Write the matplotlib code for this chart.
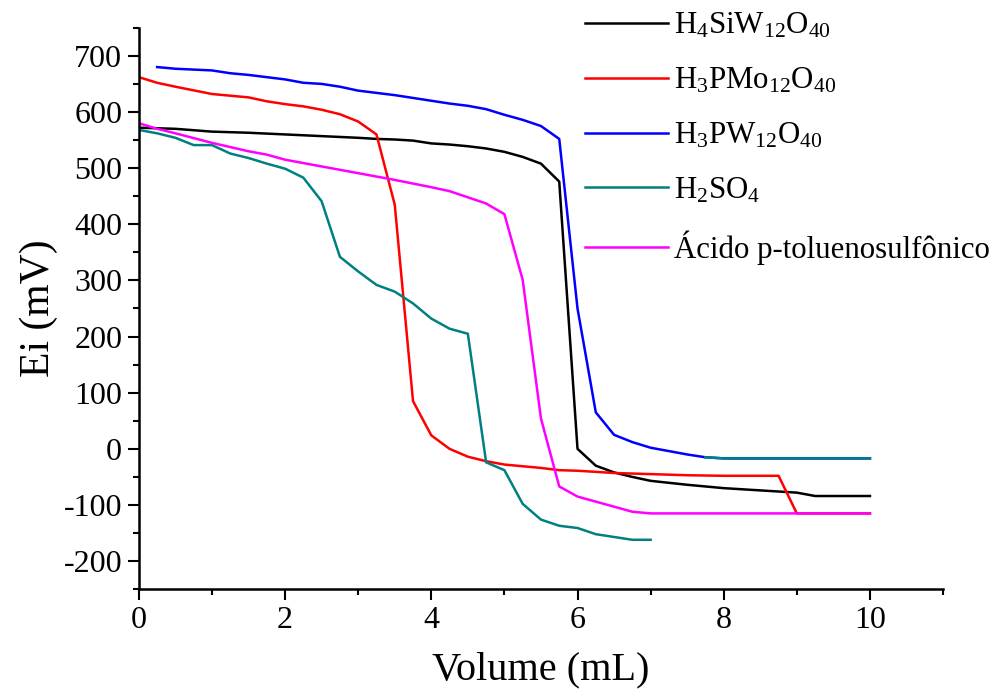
import matplotlib

matplotlib.use("Agg")
import matplotlib.pyplot as plt
from matplotlib.ticker import MultipleLocator

plt.rcParams["font.family"] = ["Liberation Serif", "DejaVu Serif"]
plt.rcParams["mathtext.fontset"] = "custom"
plt.rcParams["mathtext.rm"] = "Liberation Serif"
plt.rcParams["mathtext.it"] = "Liberation Serif"
plt.rcParams["axes.unicode_minus"] = False

# H4SiW12O40
x_siw = [0, 0.25, 0.5, 1, 1.5, 2, 2.5, 3, 3.25, 3.5, 3.75, 4, 4.25, 4.5, 4.75, 5,
         5.25, 5.5, 5.75, 6, 6.25, 6.5, 6.75, 7, 7.5, 8, 8.5, 8.75, 9, 9.25, 10]
y_siw = [572, 571, 570, 565, 563, 560, 557, 554, 552, 551, 549, 544, 542, 539, 535, 529,
         520, 508, 476, 0, -30, -42, -50, -57, -64, -70, -74, -76, -78, -84, -84]

# H3PMo12O40
x_pmo = [0, 0.25, 0.5, 1, 1.5, 1.75, 2, 2.25, 2.5, 2.75, 3, 3.25, 3.5, 3.75, 4, 4.25,
         4.5, 4.75, 5, 5.25, 5.5, 5.75, 6, 6.5, 7, 7.5, 8, 8.75, 9, 10]
y_pmo = [662, 652, 645, 632, 626, 619, 614, 610, 604, 596, 583, 560, 435, 85, 24, 0,
         -14, -22, -28, -31, -34, -38, -39, -43, -45, -47, -48, -48, -115, -115]

# H3PW12O40
x_pw = [0.25, 0.5, 1, 1.25, 1.5, 2, 2.25, 2.5, 2.75, 3, 3.5, 4, 4.25, 4.5, 4.75, 5,
        5.25, 5.5, 5.75, 6, 6.25, 6.5, 6.75, 7, 7.25, 7.5, 7.75, 8, 10]
y_pw = [680, 677, 674, 669, 666, 658, 652, 650, 645, 638, 630, 620, 615, 611, 605, 595,
        586, 575, 552, 250, 65, 25, 12, 2, -4, -10, -15, -17, -17]

# H2SO4
x_h2so4 = [0, 0.25, 0.5, 0.75, 1, 1.25, 1.5, 1.75, 2, 2.25, 2.5, 2.75, 3, 3.25, 3.5,
           3.75, 4, 4.25, 4.5, 4.75, 5, 5.25, 5.5, 5.75, 6, 6.25, 6.5, 6.75, 7]
y_h2so4 = [568, 562, 554, 541, 541, 526, 518, 508, 499, 483, 441, 342, 316, 292, 280,
           259, 232, 214, 205, -24, -38, -98, -126, -137, -141, -152, -157, -162, -162]

# teal stretch drawn over the end of the blue curve in the original
x_overlap = [7.75, 8, 10]
y_overlap = [-15, -17, -17]

# Ácido p-toluenosulfônico
x_pts = [0, 0.25, 0.5, 1, 1.5, 1.75, 2, 2.5, 3, 3.5, 4, 4.25, 4.5, 4.75, 5, 5.25,
         5.5, 5.75, 6, 6.25, 6.5, 6.75, 7, 10]
y_pts = [580, 570, 562, 545, 530, 524, 515, 503, 491, 479, 466, 459, 448, 437, 418, 301,
         54, -67, -85, -94, -103, -112, -115, -115]

fig = plt.figure(figsize=(9.99, 6.94), dpi=100)
ax = fig.add_axes([0.139, 0.151, 0.805, 0.809])

lw = 1.8
ax.plot(x_siw, y_siw, color="black", lw=lw, label=r"H$_4$SiW$_{12}$O$_{40}$")
ax.plot(x_pmo, y_pmo, color="#ff0000", lw=lw, label=r"H$_3$PMo$_{12}$O$_{40}$")
ax.plot(x_pw, y_pw, color="#0000ff", lw=lw, label=r"H$_3$PW$_{12}$O$_{40}$")
ax.plot(x_h2so4, y_h2so4, color="#008080", lw=lw, label=r"H$_2$SO$_4$")
ax.plot(x_pts, y_pts, color="#ff00ff", lw=lw, label="Ácido p-toluenosulfônico")
ax.plot(x_overlap, y_overlap, color="#008080", lw=lw)

ax.set_xlim(0, 11)
ax.set_ylim(-250, 750)
ax.set_xticks([0, 2, 4, 6, 8, 10])
ax.set_yticks(range(-200, 701, 100))
ax.xaxis.set_minor_locator(MultipleLocator(1))
ax.yaxis.set_minor_locator(MultipleLocator(50))

for side in ("top", "right"):
    ax.spines[side].set_visible(False)
for side in ("left", "bottom"):
    ax.spines[side].set_linewidth(1.8)

ax.tick_params(which="major", direction="out", length=8, width=1.5, labelsize=23, pad=4)
ax.tick_params(which="minor", direction="out", length=4.5, width=1.5)

ax.set_xlabel("Volume (mL)", fontsize=29, labelpad=12)
ax.set_ylabel("Ei (mV)", fontsize=30, labelpad=4)

fig.legend(loc="upper left", bbox_to_anchor=(0.582, 0.988), frameon=False,
           fontsize=22.2, handlelength=2.7, handletextpad=0.2, labelspacing=0.82,
           borderpad=0.1, borderaxespad=0)

fig.savefig("out.png", dpi=100)
